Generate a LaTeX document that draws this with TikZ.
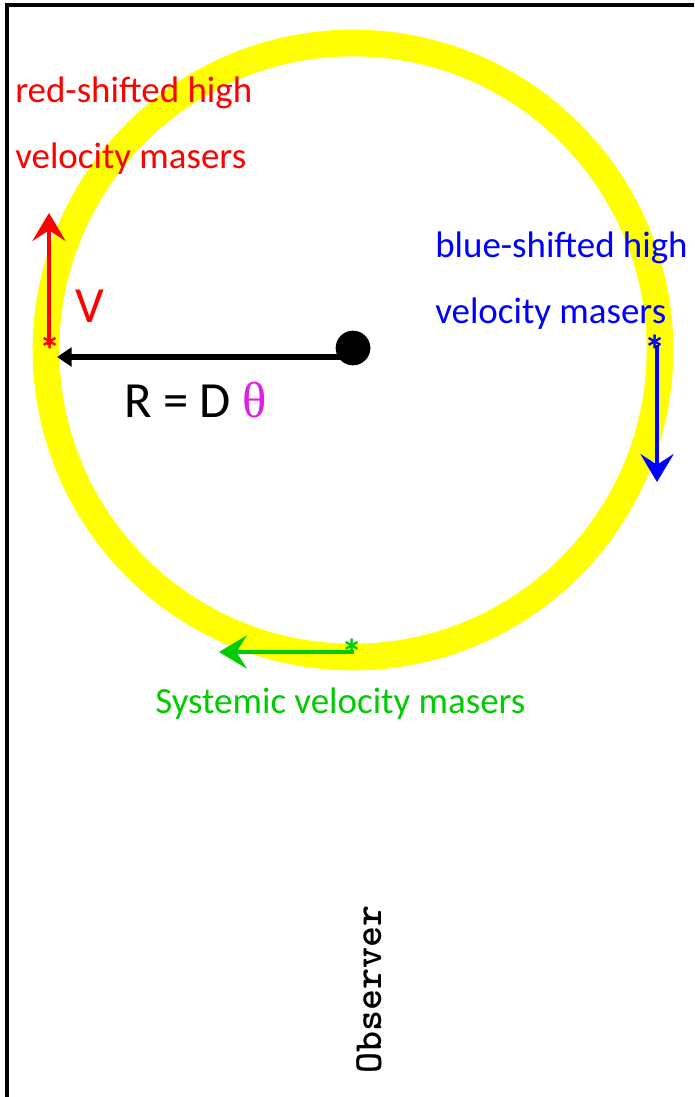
\documentclass[tikz,border=0pt]{standalone}
\usepackage{fontspec}
\setmainfont{Carlito}
\newfontfamily\thfont{Liberation Serif}
\usetikzlibrary{arrows.meta}
\definecolor{MaserRed}{RGB}{255,0,0}
\definecolor{MaserBlue}{RGB}{0,0,255}
\definecolor{MaserGreen}{RGB}{0,204,0}
\definecolor{DiskYellow}{RGB}{255,255,0}
\definecolor{ThetaPink}{RGB}{224,32,224}

\begin{document}
\begin{tikzpicture}[x=0.75pt, y=-0.75pt,
  lab/.style={anchor=base west, inner sep=0pt, font=\fontsize{27.7}{33}\selectfont},
  big/.style={anchor=base west, inner sep=0pt, font=\fontsize{38}{45}\selectfont},
  mstar/.style={anchor=base, inner sep=0pt, font=\bfseries\fontsize{32}{36}\selectfont},
  vel/.style={-{Stealth[length=21pt, width=25pt, inset=8pt, line width=2.5pt]}, line width=2.4pt},
  rad/.style={-{Triangle[length=11pt, width=14pt]}, line width=4pt}]

  \useasboundingbox (0,0) rectangle (694,1097);

  % --- frame (only left and top edges show) ---
  \draw[line width=2.4pt] (7,1097) -- (7,5) -- (694,5);

  % --- disk and central mass ---
  \draw[DiskYellow, line width=20pt] (353,350) circle (307);
  \node[circle, fill=black, inner sep=0pt, minimum size=26pt] (bh) at (353,348) {};
  \coordinate (rtip) at (57,357);
  \draw[rad] ([yshift=-6.75pt]bh.center) -- (rtip);
  \node[big] (rlab) at (124,417) {R = D {\thfont\color{ThetaPink}θ}};

  % --- red-shifted masers ---
  \coordinate (rm) at (49,345);
  \coordinate (rvtip) at (49,213);
  \node[mstar, MaserRed] (rstar) at (50,365) {*};
  \draw[vel, MaserRed] (rm) -- (rvtip);
  \node[big, MaserRed] (vlab) at (75,322) {V};
  \node[lab, MaserRed] (redl1) at (15,102) {red-shifted high};
  \node[lab, MaserRed] (redl2) at (15,168) {velocity masers};

  % --- blue-shifted masers ---
  \coordinate (bm) at (657,345);
  \coordinate (bvtip) at (657,482);
  \node[mstar, MaserBlue] (bstar) at (655,365) {*};
  \draw[vel, MaserBlue] (bm) -- (bvtip);
  \node[lab, MaserBlue] (bluel1) at (435,257) {blue-shifted high};
  \node[lab, MaserBlue] (bluel2) at (435,323) {velocity masers};

  % --- systemic masers ---
  \coordinate (sm) at (354,652);
  \coordinate (svtip) at (219,652);
  \node[mstar, MaserGreen] (sstar) at (352,669) {*};
  \draw[vel, MaserGreen] (sm) -- (svtip);
  \node[lab, MaserGreen] (sysl) at (155,713) {Systemic velocity masers};

  % --- observer ---
  \node[rotate=90, inner sep=0pt, font=\ttfamily\bfseries\fontsize{30}{34}\selectfont] (obs) at (369,989) {Observer};
\end{tikzpicture}
\end{document}
